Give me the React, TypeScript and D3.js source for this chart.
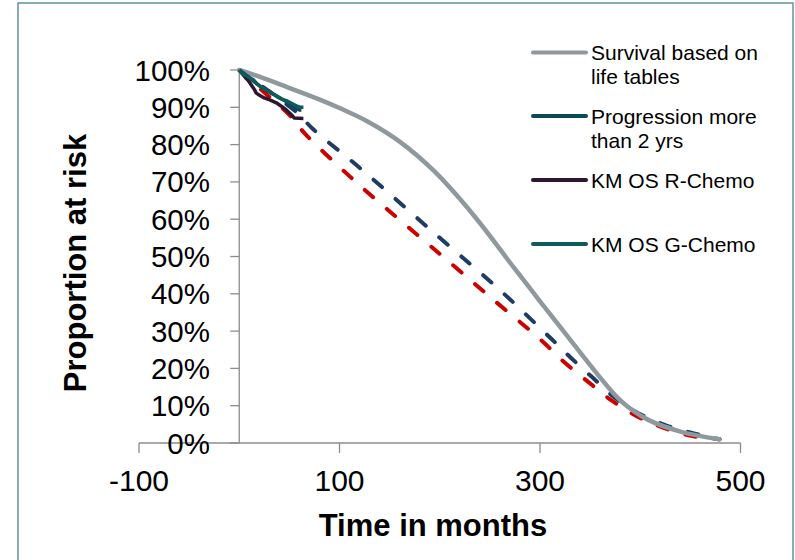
import React from "react";
import * as d3 from "d3";

// ---- Data (months, proportion %) ----
const lifeTableMonths = [0, 20, 47, 81, 100, 128, 160, 194, 234, 274, 300, 324, 358, 381, 408, 441, 479];
const lifeTableValues = [100, 98.2, 95.5, 92, 89.8, 86.2, 80.8, 73, 61, 47, 38, 29.8, 18.2, 11.2, 6.2, 3, 1];

const blueDashMonths = [0, 58, 73, 120, 200, 260, 311, 331, 353, 374, 398, 425, 450, 479];
const blueDashValues = [100, 88.5, 84.3, 73.8, 55, 41, 28, 22.8, 17.4, 12.3, 8, 4.8, 2.8, 1];

const redDashMonths = [0, 27, 48, 66, 100, 131, 200, 250, 301, 324, 348, 371, 398, 424, 451, 479];
const redDashValues = [100, 93.5, 88.5, 82.8, 74, 66.5, 50.7, 39.2, 27.6, 21.7, 16.4, 11.5, 7, 4, 1.9, 1];

const progressionMonths = [0, 5, 10, 15, 20, 25, 30, 35, 40, 45, 50, 55, 60, 62];
const progressionValues = [100, 99, 98, 96.8, 95.8, 95, 94.2, 93.4, 92.6, 91.8, 91, 90, 89.3, 89.3];

const rChemoMonths = [0, 3, 6, 9, 12, 15, 17, 21, 25, 31, 37, 42, 47, 52, 55, 64];
const rChemoValues = [100, 99, 98, 97.2, 96, 94.8, 93.8, 93.1, 92.5, 91.9, 91.2, 90.3, 89.3, 88, 87.1, 87];

const gChemoMonths = [0, 3, 6, 10, 14, 18, 22, 26, 30, 34, 38, 42, 47, 52, 57, 61, 64];
const gChemoValues = [100, 99, 98.6, 98, 97.4, 96.2, 95.4, 94.8, 94.3, 93.5, 92.8, 92.2, 91.8, 91.1, 90.4, 90, 90];

const yTickValues = [0, 0.1, 0.2, 0.3, 0.4, 0.5, 0.6, 0.7, 0.8, 0.9, 1.0];
const xTickValues = [-100, 100, 300, 500];

const legendLabels = [
  ["Survival based on", "life tables"],
  ["Progression more", "than 2 yrs"],
  ["KM OS R-Chemo"],
  ["KM OS G-Chemo"],
];

const COLORS = {
  life: "#8f989c",
  progression: "#0d4a58",
  rchemo: "#2c1631",
  gchemo: "#0f5a5c",
  blue: "#1f3d64",
  red: "#cc0000",
  axis: "#8c8c8c",
  frame: "#6a9aac",
};

const FONT = "'Liberation Sans', Arial, Helvetica, sans-serif";

type Pt = [number, number];
const zip = (xs: number[], ys: number[]): Pt[] => xs.map((x, i) => [x, ys[i] / 100]);

export default function App() {
  const W = 795;
  const H = 560;
  const x = d3.scaleLinear().domain([-100, 500]).range([139, 740.5]);
  const y = d3.scaleLinear().domain([0, 1]).range([443, 70]);

  const smooth = d3
    .line<Pt>()
    .x((d) => x(d[0]))
    .y((d) => y(d[1]))
    .curve(d3.curveCatmullRom.alpha(0.5));
  const km = d3
    .line<Pt>()
    .x((d) => x(d[0]))
    .y((d) => y(d[1]))
    .curve(d3.curveLinear);

  const pctFmt = d3.format(".0%");

  const legendX1 = 533;
  const legendX2 = 586;
  const legendTextX = 591;
  const legendYs = [52.5, 116, 180, 244];
  const legendColors = [COLORS.life, COLORS.progression, COLORS.rchemo, COLORS.gchemo];

  return (
    <div style={{ position: "absolute", left: 0, top: 0, width: W, height: H, background: "#fff" }}>
      <svg width={W} height={H} style={{ display: "block" }}>
        <rect x={0} y={0} width={W} height={H} fill="#fff" />
        {/* outer frame */}
        <rect x={18} y={3} width={775} height={570} fill="none" stroke={COLORS.frame} strokeWidth={1.6} />

        {/* axes */}
        <line x1={x(0)} x2={x(0)} y1={y(1)} y2={y(0)} stroke={COLORS.axis} strokeWidth={1.3} />
        <line x1={x(-100)} x2={x(500)} y1={y(0)} y2={y(0)} stroke={COLORS.axis} strokeWidth={1.3} />
        {yTickValues.map((t) => (
          <g key={"yt" + t}>
            <line x1={x(0) - 9} x2={x(0)} y1={y(t)} y2={y(t)} stroke={COLORS.axis} strokeWidth={1.3} />
            <text x={210} y={y(t) + 10.5} textAnchor="end" fontFamily={FONT} fontSize={29.5} fill="#000">
              {pctFmt(t)}
            </text>
          </g>
        ))}
        {xTickValues.map((t) => (
          <g key={"xt" + t}>
            <line x1={x(t)} x2={x(t)} y1={y(0)} y2={y(0) + 10} stroke={COLORS.axis} strokeWidth={1.3} />
            <text x={x(t)} y={491} textAnchor="middle" fontFamily={FONT} fontSize={30} fill="#000">
              {t}
            </text>
          </g>
        ))}

        {/* axis titles */}
        <text x={433} y={536} textAnchor="middle" fontFamily={FONT} fontWeight="bold" fontSize={31} fill="#000">
          Time in months
        </text>
        <text
          transform={`translate(86,263) rotate(-90)`}
          textAnchor="middle"
          fontFamily={FONT}
          fontWeight="bold"
          fontSize={31}
          fill="#000"
        >
          Proportion at risk
        </text>

        {/* dashed projections */}
        <path
          d={smooth(zip(blueDashMonths, blueDashValues)) || ""}
          fill="none"
          stroke={COLORS.blue}
          strokeWidth={4}
          strokeDasharray="11 18"
          strokeLinecap="round"
        />
        <path
          d={smooth(zip(redDashMonths, redDashValues)) || ""}
          fill="none"
          stroke={COLORS.red}
          strokeWidth={4}
          strokeDasharray="11 18"
          strokeLinecap="round"
        />

        {/* life tables */}
        <path
          d={smooth(zip(lifeTableMonths, lifeTableValues)) || ""}
          fill="none"
          stroke={COLORS.life}
          strokeWidth={4.5}
          strokeLinecap="round"
        />

        {/* KM curves */}
        <path d={km(zip(rChemoMonths, rChemoValues)) || ""} fill="none" stroke={COLORS.rchemo} strokeWidth={3.5} strokeLinejoin="round" />
        <path
          d={km(zip(progressionMonths, progressionValues)) || ""}
          fill="none"
          stroke={COLORS.progression}
          strokeWidth={3.5}
          strokeLinejoin="round"
        />
        <path d={km(zip(gChemoMonths, gChemoValues)) || ""} fill="none" stroke={COLORS.gchemo} strokeWidth={3.5} strokeLinejoin="round" />

        {/* legend */}
        {legendLabels.map((lines, i) => (
          <g key={"lg" + i}>
            <line
              x1={legendX1}
              x2={legendX2}
              y1={legendYs[i]}
              y2={legendYs[i]}
              stroke={legendColors[i]}
              strokeWidth={4}
              strokeLinecap="round"
            />
            {lines.map((s, j) => (
              <text
                key={j}
                x={legendTextX}
                y={legendYs[i] + 7.5 + j * 24}
                fontFamily={FONT}
                fontSize={21}
                fill="#000"
              >
                {s}
              </text>
            ))}
          </g>
        ))}
      </svg>
    </div>
  );
}
